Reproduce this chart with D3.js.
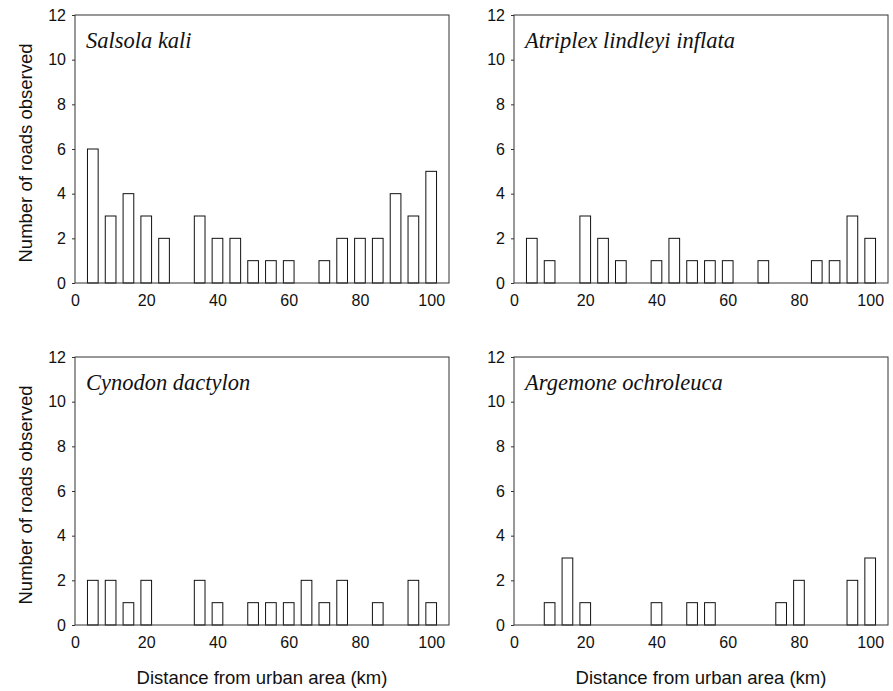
<!DOCTYPE html>
<meta charset="utf-8">
<style>
  body { margin: 0; background: #fff; }
  text { font-family: "Liberation Sans", Arial, sans-serif; }
</style>
<body>
<script src="https://d3js.org/d3.v7.min.js"></script>
<script>

var distances = [5, 10, 15, 20, 25, 30, 35, 40, 45, 50, 55, 60, 65, 70, 75, 80, 85, 90, 95, 100];

var species = ["Salsola kali", "Atriplex lindleyi inflata", "Cynodon dactylon", "Argemone ochroleuca"];

var salsola   = [6, 3, 4, 3, 2, 0, 3, 2, 2, 1, 1, 1, 0, 1, 2, 2, 2, 4, 3, 5];
var atriplex  = [2, 1, 0, 3, 2, 1, 0, 1, 2, 1, 1, 1, 0, 1, 0, 0, 1, 1, 3, 2];
var cynodon   = [2, 2, 1, 2, 0, 0, 2, 1, 0, 1, 1, 1, 2, 1, 2, 0, 1, 0, 2, 1];
var argemone  = [0, 1, 3, 1, 0, 0, 0, 1, 0, 1, 1, 0, 0, 0, 1, 2, 0, 0, 2, 3];

var xTicks = [0, 20, 40, 60, 80, 100];
var yTicks = [0, 2, 4, 6, 8, 10, 12];

var width = 893, height = 691;

var svg = d3.select("body").append("svg")
    .attr("width", width)
    .attr("height", height);

var panelW = 374, panelH = 268;
var panels = [
  {name: species[0], values: salsola,  left: 75,  top: 15},
  {name: species[1], values: atriplex, left: 514, top: 15},
  {name: species[2], values: cynodon,  left: 75,  top: 357},
  {name: species[3], values: argemone, left: 514, top: 357}
];

var x = d3.scaleLinear().domain([0, 105]).range([0, panelW]);
var y = d3.scaleLinear().domain([0, 12]).range([panelH, 0]);
var barW = x(3) - x(0);

panels.forEach(function(p, i) {
  var g = svg.append("g").attr("transform", "translate(" + p.left + "," + p.top + ")");

  var data = distances.map(function(d, j) { return {d: d, v: p.values[j]}; })
      .filter(function(o) { return o.v > 0; });

  g.selectAll(".bar")
      .data(data)
      .enter().append("rect")
      .attr("class", "bar")
      .attr("x", function(o) { return x(o.d) - barW / 2; })
      .attr("y", function(o) { return y(o.v); })
      .attr("width", barW)
      .attr("height", function(o) { return y(0) - y(o.v); })
      .attr("fill", "#fff")
      .attr("stroke", "#111")
      .attr("stroke-width", 1);

  // frame
  g.append("rect")
      .attr("x", 0).attr("y", 0)
      .attr("width", panelW).attr("height", panelH)
      .attr("fill", "none")
      .attr("stroke", "#333")
      .attr("stroke-width", 1);

  var yAxis = g.append("g")
      .call(d3.axisLeft(y).tickValues(yTicks).tickSize(3).tickPadding(6));
  yAxis.select(".domain").remove();
  yAxis.selectAll("line").attr("stroke", "#333");
  yAxis.selectAll("text").attr("font-size", 16).attr("fill", "#111")
      .style("font-family", "'Liberation Sans', Arial, sans-serif");

  var xAxis = g.append("g")
      .attr("transform", "translate(0," + panelH + ")")
      .call(d3.axisBottom(x).tickValues(xTicks).tickSize(0).tickPadding(12));
  xAxis.select(".domain").remove();
  xAxis.selectAll("text").attr("font-size", 16).attr("fill", "#111")
      .style("font-family", "'Liberation Sans', Arial, sans-serif");

  g.append("text")
      .attr("x", 11)
      .attr("y", 33)
      .attr("font-size", 22.5)
      .attr("font-style", "italic")
      .style("font-family", "'Liberation Serif', 'Times New Roman', serif")
      .attr("fill", "#111")
      .text(p.name);

  if (i % 2 === 0) {
    g.append("text")
        .attr("transform", "translate(-43," + (panelH / 2 + 4) + ") rotate(-90)")
        .attr("text-anchor", "middle")
        .attr("font-size", 18.5)
        .attr("fill", "#111")
        .text("Number of roads observed");
  }
  if (i >= 2) {
    g.append("text")
        .attr("x", panelW / 2)
        .attr("y", panelH + 59)
        .attr("text-anchor", "middle")
        .attr("font-size", 18.5)
        .attr("fill", "#111")
        .text("Distance from urban area (km)");
  }
});

</script>
